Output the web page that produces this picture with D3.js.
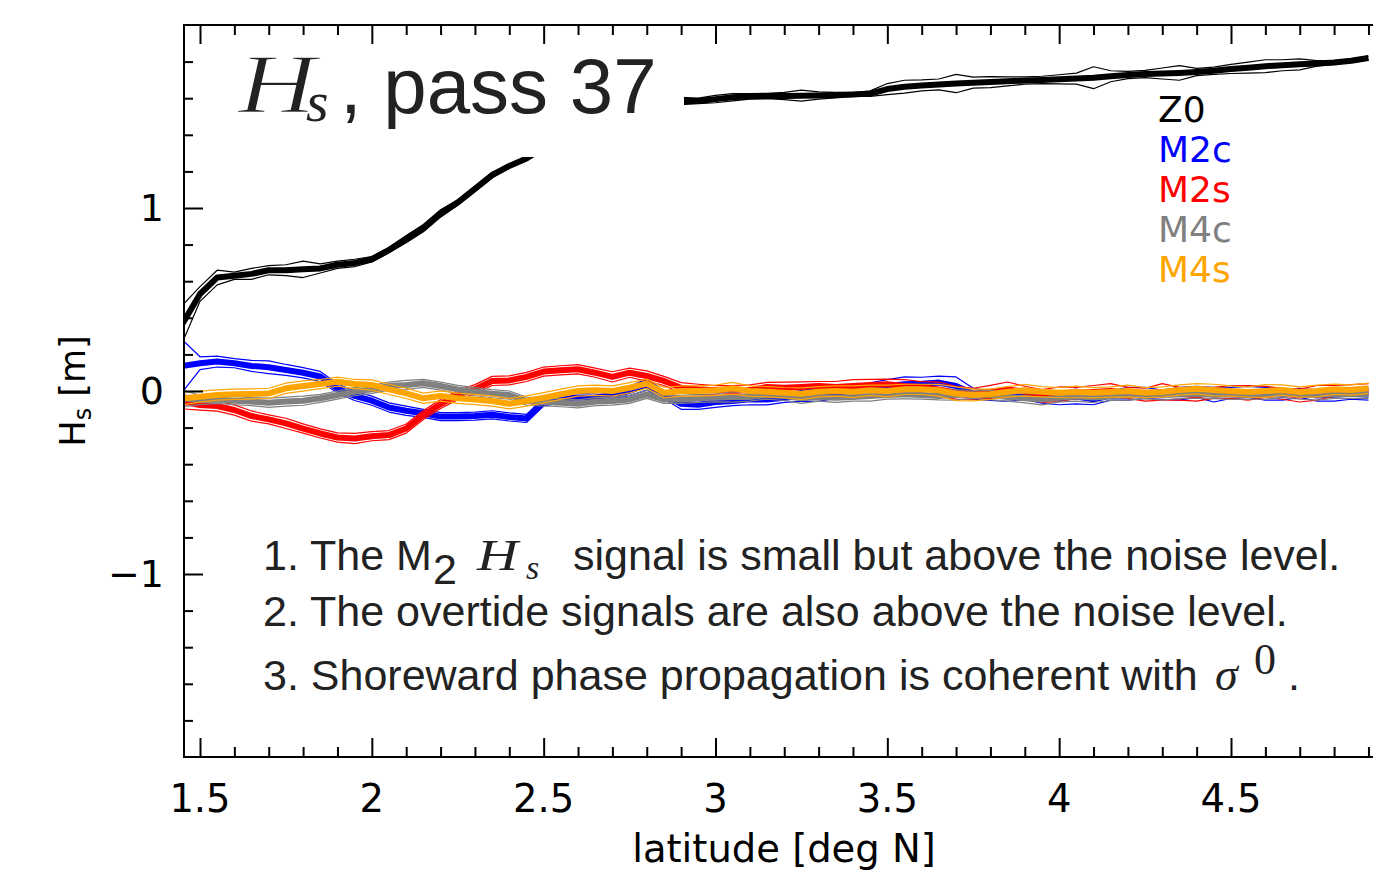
<!DOCTYPE html>
<html><head><meta charset="utf-8">
<script src="https://cdn.jsdelivr.net/npm/d3@7"></script>
<style>html,body{margin:0;padding:0;background:#fff;}svg{display:block;}</style>
</head><body>
<svg id="chart" width="1373" height="873"></svg>
<script>
// ---------------- DATA ----------------
const lat = [1.45,1.50,1.55,1.60,1.65,1.70,1.75,1.80,1.85,1.90,
             1.95,2.00,2.05,2.10,2.15,2.20,2.25,2.30,2.35,2.40,
             2.45,2.50,2.55,2.60,2.65,2.70,2.75,2.80,2.85,2.90,
             2.95,3.00,3.05,3.10,3.15,3.20,3.25,3.30,3.35,3.40,
             3.45,3.50,3.55,3.60,3.65,3.70,3.75,3.80,3.85,3.90,
             3.95,4.00,4.05,4.10,4.15,4.20,4.25,4.30,4.35,4.40,
             4.45,4.50,4.55,4.60,4.65,4.70,4.75,4.80,4.85,4.90];

const z0 = [0.37,0.53,0.62,0.63,0.64,0.66,0.66,0.665,0.67,0.69,
            0.70,0.72,0.77,0.83,0.89,0.97,1.03,1.105,1.18,1.23,
            1.27,1.33,1.39,1.45,1.50,1.54,1.56,1.575,1.58,1.585,
            1.585,1.595,1.605,1.61,1.612,1.612,1.614,1.615,1.617,1.62,
            1.625,1.65,1.663,1.67,1.675,1.68,1.685,1.688,1.692,1.697,
            1.70,1.703,1.707,1.712,1.72,1.727,1.732,1.735,1.738,1.743,
            1.75,1.76,1.767,1.775,1.78,1.785,1.79,1.795,1.805,1.82];
const z0Err = [0.10,0.04,0.04,0.02,0.03,0.025,0.03,0.045,0.025,0.02,
               0.02,0.015,0.015,0.02,0.02,0.02,0.015,0.015,0.015,0.01,
               0.01,0.01,0.01,0.01,0.01,0.01,0.01,0.01,0.015,0.02,
               0.015,0.02,0.02,0.015,0.015,0.02,0.03,0.02,0.015,0.01,
               0.015,0.03,0.035,0.03,0.03,0.05,0.03,0.03,0.025,0.02,
               0.02,0.025,0.03,0.06,0.03,0.02,0.02,0.03,0.04,0.02,
               0.02,0.025,0.03,0.035,0.03,0.03,0.015,0.01,0.01,0.01];

const m2c = [0.137,0.152,0.161,0.152,0.137,0.13,0.115,0.10,0.079,0.015,
             -0.027,-0.053,-0.09,-0.108,-0.122,-0.14,-0.14,-0.137,-0.13,-0.142,
             -0.15,-0.06,-0.04,-0.035,-0.035,-0.02,0.0,0.035,-0.02,-0.07,
             -0.075,-0.06,-0.055,-0.045,-0.046,-0.037,-0.027,-0.022,-0.009,0.0,
             0.015,0.027,0.037,0.04,0.046,0.027,-0.015,-0.027,-0.022,-0.018,
             -0.037,-0.04,-0.03,-0.045,-0.025,-0.015,-0.01,-0.02,-0.015,-0.005,
             -0.02,-0.01,-0.005,-0.015,-0.02,-0.01,-0.025,-0.02,-0.015,-0.02];
const m2cErr = [0.14,0.035,0.03,0.025,0.03,0.035,0.03,0.028,0.028,0.025,
                0.025,0.025,0.025,0.025,0.022,0.022,0.022,0.022,0.022,0.022,
                0.022,0.022,0.025,0.022,0.025,0.022,0.025,0.03,0.022,0.03,
                0.025,0.03,0.025,0.03,0.03,0.025,0.03,0.035,0.03,0.025,
                0.03,0.035,0.04,0.035,0.035,0.05,0.03,0.025,0.035,0.03,
                0.03,0.035,0.04,0.03,0.025,0.035,0.03,0.025,0.035,0.03,
                0.04,0.03,0.03,0.035,0.03,0.025,0.03,0.035,0.03,0.03];

const m2s = [-0.058,-0.077,-0.082,-0.104,-0.137,-0.155,-0.177,-0.205,-0.232,-0.254,
             -0.26,-0.247,-0.241,-0.205,-0.131,-0.071,-0.022,0.01,0.055,0.058,
             0.077,0.106,0.113,0.119,0.10,0.077,0.10,0.082,0.055,0.018,
             0.009,0.004,0.0,0.005,0.022,0.018,0.022,0.027,0.022,0.027,
             0.033,0.037,0.027,0.022,0.009,-0.009,-0.015,-0.004,0.009,-0.004,
             -0.027,-0.018,-0.01,-0.005,0.0,-0.01,-0.02,-0.005,-0.015,-0.025,
             -0.01,-0.005,-0.01,-0.005,-0.015,-0.025,-0.01,0.0,0.005,0.01];
const m2sErr = [0.04,0.028,0.028,0.028,0.028,0.025,0.028,0.025,0.025,0.025,
                0.028,0.025,0.025,0.025,0.025,0.025,0.025,0.025,0.025,0.025,
                0.025,0.025,0.025,0.025,0.025,0.028,0.025,0.028,0.025,0.028,
                0.028,0.025,0.03,0.028,0.025,0.03,0.028,0.025,0.03,0.035,
                0.03,0.028,0.035,0.03,0.04,0.035,0.03,0.035,0.04,0.03,
                0.035,0.04,0.03,0.035,0.04,0.03,0.035,0.045,0.035,0.03,
                0.03,0.035,0.04,0.03,0.03,0.035,0.04,0.03,0.03,0.03];

const m4c = [-0.04,-0.049,-0.046,-0.053,-0.058,-0.064,-0.058,-0.053,-0.04,-0.022,
             -0.004,0.009,0.027,0.033,0.042,0.027,0.009,-0.004,-0.015,-0.022,
             -0.055,-0.06,-0.064,-0.07,-0.058,-0.055,-0.046,-0.018,-0.046,-0.046,
             -0.04,-0.037,-0.033,-0.033,-0.022,-0.027,-0.04,-0.033,-0.037,-0.033,
             -0.027,-0.022,-0.018,-0.022,-0.027,-0.022,-0.018,-0.022,-0.033,-0.04,
             -0.046,-0.037,-0.03,-0.035,-0.03,-0.025,-0.02,-0.022,-0.018,-0.015,
             -0.02,-0.018,-0.022,-0.02,-0.015,-0.02,-0.022,-0.018,-0.015,-0.018];
const m4cErr = [0.045,0.025,0.022,0.022,0.022,0.025,0.025,0.025,0.022,0.022,
                0.022,0.022,0.022,0.025,0.022,0.022,0.022,0.022,0.022,0.022,
                0.022,0.022,0.022,0.022,0.022,0.022,0.022,0.022,0.022,0.022,
                0.022,0.022,0.028,0.022,0.022,0.025,0.028,0.022,0.025,0.022,
                0.028,0.022,0.025,0.022,0.022,0.028,0.022,0.025,0.022,0.025,
                0.03,0.022,0.025,0.028,0.022,0.025,0.022,0.028,0.022,0.025,
                0.022,0.028,0.022,0.025,0.022,0.025,0.028,0.022,0.025,0.022];

const m4s = [-0.04,-0.031,-0.022,-0.018,-0.016,-0.013,0.015,0.027,0.038,0.051,
             0.038,0.033,0.009,-0.013,-0.04,-0.027,-0.04,-0.046,-0.055,-0.07,
             -0.055,-0.037,-0.018,0.0,0.004,0.0,0.018,0.04,-0.009,0.0,
             0.0,0.004,0.015,0.0,-0.004,-0.009,-0.015,-0.004,0.0,-0.004,
             0.004,0.0,0.009,0.009,0.004,-0.015,-0.022,-0.018,-0.004,0.004,
             -0.004,-0.009,-0.005,-0.01,-0.005,0.0,-0.01,-0.005,0.005,0.012,
             0.005,0.0,-0.005,0.0,0.005,-0.005,0.0,0.01,0.005,0.015];
const m4sErr = [0.035,0.03,0.028,0.028,0.028,0.028,0.028,0.028,0.025,0.025,
                0.025,0.028,0.028,0.028,0.028,0.028,0.028,0.028,0.028,0.028,
                0.028,0.028,0.028,0.028,0.028,0.028,0.028,0.025,0.028,0.028,
                0.028,0.028,0.032,0.028,0.028,0.028,0.032,0.028,0.028,0.032,
                0.028,0.032,0.028,0.028,0.032,0.038,0.032,0.028,0.028,0.032,
                0.028,0.028,0.032,0.028,0.028,0.032,0.028,0.028,0.028,0.028,
                0.032,0.028,0.028,0.035,0.028,0.028,0.032,0.028,0.028,0.028];

const seriesNames = ["Z0","M2c","M2s","M4c","M4s"];
const seriesColors = ["#000000","#0000ff","#ff0000","#808080","#ffa500"];
const seriesValues = [z0, m2c, m2s, m4c, m4s];
const seriesErrors = [z0Err, m2cErr, m2sErr, m4cErr, m4sErr];

const xMajorTicks = [1.5,2,2.5,3,3.5,4,4.5];
const xTickLabels = ["1.5","2","2.5","3","3.5","4","4.5"];
const xMinorTicks = [1.6,1.7,1.8,1.9,2.1,2.2,2.3,2.4,2.6,2.7,2.8,2.9,3.1,3.2,3.3,3.4,3.6,3.7,3.8,3.9,4.1,4.2,4.3,4.4,4.6,4.7,4.8,4.9];
const yMajorTicks = [-1,0,1];
const yTickLabels = ["\u22121","0","1"];
const yMinorTicks = [-1.8,-1.6,-1.4,-1.2,-0.8,-0.6,-0.4,-0.2,0.2,0.4,0.6,0.8,1.2,1.4,1.6,1.8];

// ---------------- LAYOUT ----------------
const svg = d3.select("#chart");
svg.append("rect").attr("width",1373).attr("height",873).attr("fill","#fff");

const x = d3.scaleLinear().domain([1.5, 4.5]).range([200, 1231]);
const y = d3.scaleLinear().domain([-2, 2]).range([757, 25]);
const L = 184, R = 1380, T = y(2), B = y(-2);

svg.append("clipPath").attr("id","clip").append("rect")
  .attr("x", L).attr("y", T).attr("width", R - L).attr("height", B - T);

const gData = svg.append("g").attr("clip-path","url(#clip)");
const line = d3.line().x((d,i)=>x(lat[i])).y(d=>y(d));

seriesValues.forEach((vals, k) => {
  const err = seriesErrors[k];
  const col = seriesColors[k];
  const up = vals.map((v,i)=>v+err[i]);
  const lo = vals.map((v,i)=>v-err[i]);
  [up, lo].forEach(arr => {
    gData.append("path").attr("d", line(arr)).attr("fill","none")
      .attr("stroke", col).attr("stroke-width", 1.2).attr("stroke-linejoin","round");
  });
  gData.append("path").attr("d", line(vals)).attr("fill","none")
    .attr("stroke", col).attr("stroke-width", 6).attr("stroke-linejoin","round");
});

// title box hides data behind title
svg.append("rect").attr("x", L+2).attr("y", T+2).attr("width", 684-L-2).attr("height", 157-T-2).attr("fill","#fff");

// ---------------- AXES ----------------
const axStyle = g => { g.select(".domain").remove(); g.selectAll("line").attr("stroke","#000").attr("stroke-width",2); g.selectAll("text").remove(); };

svg.append("g").attr("transform",`translate(0,${B})`)
  .call(d3.axisBottom(x).tickValues(xMajorTicks).tickSize(-19).tickFormat("")).call(axStyle);
svg.append("g").attr("transform",`translate(0,${B})`)
  .call(d3.axisBottom(x).tickValues(xMinorTicks).tickSize(-10).tickFormat("")).call(axStyle);
svg.append("g").attr("transform",`translate(0,${T})`)
  .call(d3.axisTop(x).tickValues(xMajorTicks).tickSize(-19).tickFormat("")).call(axStyle);
svg.append("g").attr("transform",`translate(0,${T})`)
  .call(d3.axisTop(x).tickValues(xMinorTicks).tickSize(-10).tickFormat("")).call(axStyle);
svg.append("g").attr("transform",`translate(${L},0)`)
  .call(d3.axisLeft(y).tickValues(yMajorTicks).tickSize(-19).tickFormat("")).call(axStyle);
svg.append("g").attr("transform",`translate(${L},0)`)
  .call(d3.axisLeft(y).tickValues(yMinorTicks).tickSize(-9).tickFormat("")).call(axStyle);

// frame
svg.append("path").attr("d", `M${R},${T}H${L}V${B}H${R}`).attr("fill","none")
  .attr("stroke","#000").attr("stroke-width",2);

const sans = "DejaVu Sans";
svg.append("g").selectAll("text").data(xMajorTicks).join("text")
  .attr("x", d=>x(d)).attr("y", 812).attr("text-anchor","middle")
  .attr("font-family", sans).attr("font-size", 38.5).text((d,i)=>xTickLabels[i]);
svg.append("g").selectAll("text").data(yMajorTicks).join("text")
  .attr("x", 164).attr("y", d=>y(d)+13).attr("text-anchor","end")
  .attr("font-family", sans).attr("font-size", 38).text((d,i)=>yTickLabels[i]);

svg.append("text").attr("x", 784).attr("y", 862).attr("text-anchor","middle")
  .attr("font-family", sans).attr("font-size", 38.5).text("latitude [deg N]");

const yl = svg.append("text").attr("transform","translate(85,391) rotate(-90)")
  .attr("text-anchor","middle").attr("font-family", sans).attr("font-size", 35);
yl.append("tspan").text("H");
yl.append("tspan").attr("font-size", 24).attr("dy", 6).text("s");
yl.append("tspan").attr("dy", -6).text(" [m]");

// legend
seriesNames.forEach((n,k)=>{
  svg.append("text").attr("x", 1158).attr("y", 122 + 40*k)
    .attr("font-family", sans).attr("font-size", 36).attr("fill", seriesColors[k]).text(n);
});

// title
const serif = "Liberation Serif";
svg.append("text").attr("x", 238).attr("y", 113).attr("font-family", serif).attr("font-style","italic")
  .attr("font-size", 84).attr("textLength", 78).attr("lengthAdjust","spacingAndGlyphs")
  .attr("fill","#222").attr("stroke","#fff").attr("stroke-width",1.5).text("H");
svg.append("text").attr("x", 306).attr("y", 121).attr("font-family", serif).attr("font-style","italic")
  .attr("font-size", 58).attr("fill","#222").text("s");
svg.append("text").attr("x", 340).attr("y", 113).attr("font-family", "Liberation Sans")
  .attr("font-size", 78).attr("fill","#222").text(", pass 37");

// annotation
const af = "Liberation Sans", as = 43, ac = "#222";
const t1 = svg.append("text").attr("y", 570).attr("font-family", af).attr("font-size", as).attr("fill", ac);
t1.append("tspan").attr("x", 263).text("1. The M");
t1.append("tspan").attr("x", 433).attr("dy", 14).text("2");
t1.append("tspan").attr("x", 477).attr("dy", -14).attr("font-family", serif).attr("font-style","italic")
  .attr("font-size", 44).attr("textLength", 41).attr("lengthAdjust","spacingAndGlyphs").text("H");
t1.append("tspan").attr("x", 526).attr("dy", 9).attr("font-family", serif).attr("font-style","italic").attr("font-size", 34).text("s");
t1.append("tspan").attr("x", 573).attr("dy", -9).text("signal is small but above the noise level.");

svg.append("text").attr("x", 263).attr("y", 626).attr("font-family", af).attr("font-size", as).attr("fill", ac)
  .text("2. The overtide signals are also above the noise level.");

const t3 = svg.append("text").attr("y", 690).attr("font-family", af).attr("font-size", as).attr("fill", ac);
t3.append("tspan").attr("x", 263).text("3. Shoreward phase propagation is coherent with");
t3.append("tspan").attr("x", 1215).attr("font-family", serif).attr("font-style","italic").attr("font-size", 46).text("\u03c3");
t3.append("tspan").attr("x", 1254).attr("font-family", serif).attr("font-size", 44).attr("dy", -16).text("0");
t3.append("tspan").attr("x", 1288).attr("dy", 16).text(".");
</script>
</body></html>
